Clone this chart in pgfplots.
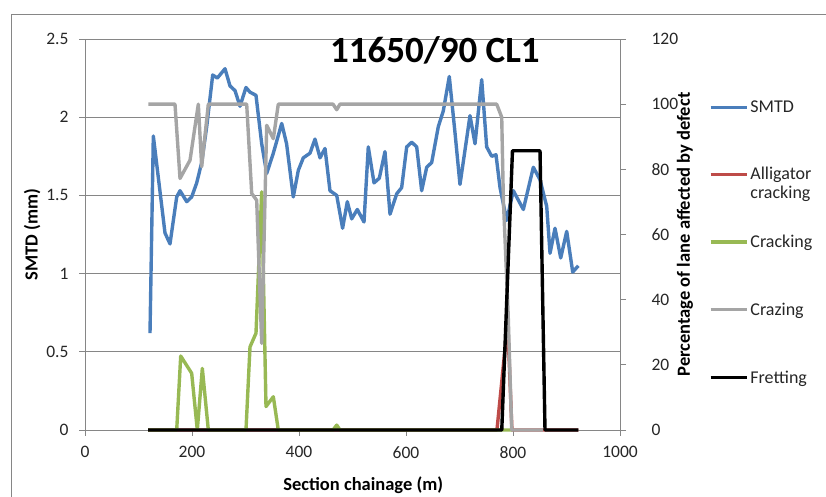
\documentclass[border=0pt]{standalone}
\usepackage{fontspec}
\setmainfont{Carlito}
\usepackage{pgfplots}
\pgfplotsset{compat=1.18}

\definecolor{smtd}{HTML}{4A7EBB}
\definecolor{alli}{HTML}{BE4B48}
\definecolor{crack}{HTML}{98B954}
\definecolor{craz}{HTML}{A5A5A5}
\definecolor{axgray}{HTML}{868686}

\pgfplotsset{
  common/.style={
    at={(85pt,67pt)}, anchor=south west,
    scale only axis, width=535pt, height=391pt,
    xmin=0, xmax=1000,
    tick align=outside, major tick length=6pt,
    tick style={axgray, line width=0.8pt},
    axis line style={axgray, line width=0.8pt, -},
    tick label style={font=\fontsize{17.5}{20}\selectfont, text=black!85},
    /pgf/number format/assume math mode=true,
    /pgf/number format/1000 sep={},
    label style={font=\bfseries\fontsize{18.5}{22}\selectfont},
    clip=false,
  },
  data/.style={line width=3.4pt, line join=round},
}

\begin{document}
\begin{tikzpicture}[x=1pt,y=1pt]
\path[use as bounding box] (0,0) rectangle (826,497);
\draw[axgray, line width=1pt] (11,0) -- (11,482) -- (826,482);

\begin{axis}[common,
  ymin=0, ymax=2.5,
  xtick={0,200,...,1000}, ytick={0,0.5,...,2.5},
  axis x line*=bottom, axis y line*=left,
  xticklabel style={yshift=-7pt},
  yticklabel style={xshift=-7pt},
  ymajorgrids, grid style={axgray, line width=0.8pt},
  xlabel={Section chainage (m)}, ylabel={SMTD (mm)},
  xlabel style={at={(axis description cs:0.52,-0.1407)}, anchor=center},
  ylabel style={at={(axis description cs:-0.099,0.5)}, anchor=center},
  title={11650/90 CL1},
  title style={at={(axis description cs:0.654,0.955)}, anchor=center, font=\bfseries\fontsize{37}{44}\selectfont},
]
\addplot[data, smtd] coordinates {
(121.5,0.62) (127.7,1.88) (149.5,1.26) (158.9,1.19) (171.4,1.49) (177.6,1.53)
(190.1,1.46) (199.4,1.49) (208.8,1.58) (218.1,1.71) (227.5,1.94) (238.7,2.27)
(247.3,2.25) (261.7,2.31) (271.0,2.20) (280.4,2.17) (289.7,2.07) (300.9,2.19)
(308.4,2.16) (319.6,2.14) (330.3,1.83) (339.6,1.64) (352.0,1.77) (367.7,1.96)
(376.8,1.83) (389.3,1.49) (398.7,1.66) (408.0,1.74) (420.6,1.77) (429.9,1.86)
(439.3,1.74) (448.6,1.80) (457.9,1.53) (470.5,1.50) (481.5,1.29) (490.3,1.46)
(498.5,1.35) (509.0,1.41) (521.5,1.33) (529.5,1.81) (540.2,1.58) (550.1,1.61)
(560.7,1.78) (570.1,1.38) (582.6,1.51) (591.9,1.55) (601.3,1.81) (610.7,1.84)
(620.0,1.81) (629.3,1.53) (638.7,1.68) (648.0,1.71) (660.4,1.94) (669.7,2.04)
(680.9,2.26) (691.6,1.90) (700.9,1.57) (710.3,1.79) (719.6,2.01) (729.0,1.83)
(741.5,2.24) (750.8,1.81) (760.2,1.75) (768.2,1.76) (775.7,1.55) (788.2,1.34)
(800.6,1.53) (819.3,1.41) (838.0,1.68) (850.5,1.60) (863.0,1.43) (869.2,1.13)
(878.5,1.29) (889.2,1.10) (900.4,1.27) (911.6,1.01) (922.1,1.05)
};
\end{axis}

\begin{axis}[common,
  ymin=0, ymax=120, ytick={0,20,...,120},
  axis x line=none, axis y line*=right,
  yticklabel style={xshift=22pt},
  ylabel={Percentage of lane affected by defect},
  ylabel style={at={(axis description cs:1.1215,0.5)}, anchor=center},
  legend cell align=left,
  legend image code/.code={\draw[#1] (0pt,0pt) -- (36pt,0pt);},
  legend style={at={(axis description cs:1.166,0.848)}, anchor=north west,
    draw=none, fill=none, inner sep=0pt, row sep=50pt,
    font=\fontsize{18}{21}\selectfont, text=black!85,
    nodes={inner sep=2pt}},
]
\addlegendimage{data, smtd}
\addlegendentry{SMTD}
\addplot[data, alli] coordinates {
(118,0) (770,0) (790,33) (798,0) (922,0)
};
\addlegendentry{\vphantom{A}\smash{\begin{tabular}[t]{@{}l@{}}Alligator\\[-2pt]cracking\end{tabular}}}
\addplot[data, crack] coordinates {
(118,0) (171.4,0) (178.9,22.7) (199.4,17.4) (209.9,0) (219.3,18.9) (230.5,0)
(300.9,0) (308.4,25.5) (319.6,29.7) (330.3,73.1) (338.3,7.2) (352.0,10.2)
(361.3,0) (463.6,0) (470.5,1.5) (476.6,0) (798,0)
};
\addlegendentry{Cracking}
\addplot[data, craz] coordinates {
(118.3,100) (168.2,100) (177.6,77.2) (196.3,82.8) (211.8,100) (218.1,80.8)
(230.5,100) (302.2,100) (311.6,72.6) (320.9,70.5) (330.3,26.6) (339.6,93.5)
(352.0,89.4) (361.3,100) (463.6,100) (470.5,98.3) (476.6,100) (769.5,100)
(778.9,96) (782,70.5) (791,35.3) (797.6,0) (856,0)
};
\addlegendentry{Crazing}
\addplot[data, black] coordinates {
(118,0) (779,0) (799,85.7) (850.5,85.7) (859.8,0) (922,0)
};
\addlegendentry{Fretting}
\end{axis}
\end{tikzpicture}
\end{document}
